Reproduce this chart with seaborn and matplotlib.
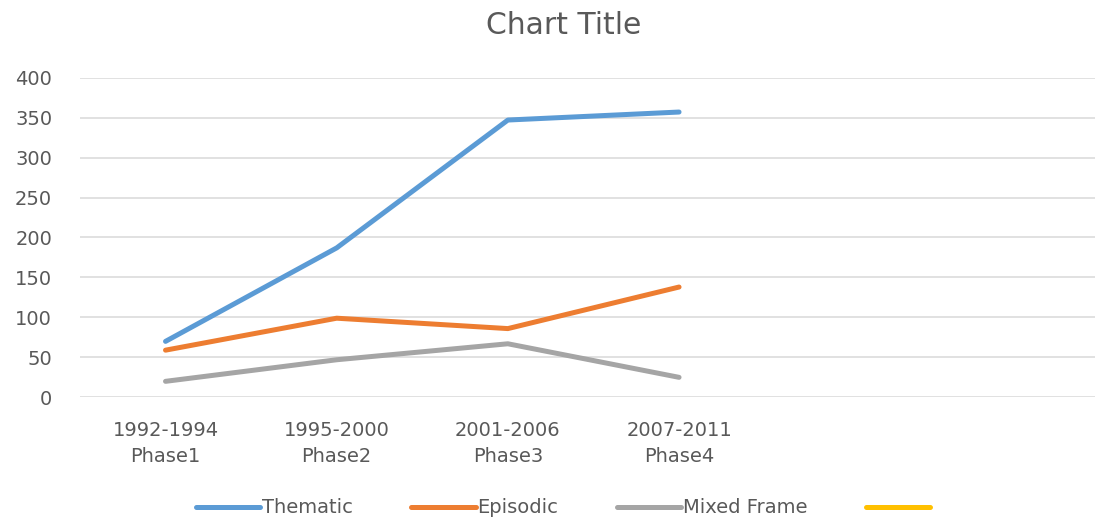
import matplotlib
matplotlib.use("Agg")
import matplotlib.pyplot as plt
from matplotlib.lines import Line2D
import seaborn as sns
import pandas as pd

# Data
periods = ["1992-1994\nPhase1", "1995-2000\nPhase2", "2001-2006\nPhase3", "2007-2011\nPhase4"]
thematic = [70, 187, 347, 357]
episodic = [59, 99, 86, 138]
mixed_frame = [20, 47, 67, 25]
series_names = ["Thematic", "Episodic", "Mixed Frame", ""]
series_colors = ["#5B9BD5", "#ED7D31", "#A5A5A5", "#FFC000"]
y_ticks = [0, 50, 100, 150, 200, 250, 300, 350, 400]

df = pd.DataFrame({
    "period": periods * 3,
    "value": thematic + episodic + mixed_frame,
    "series": [series_names[0]] * 4 + [series_names[1]] * 4 + [series_names[2]] * 4,
})

sns.set_theme(style="white")
plt.rcParams["font.family"] = ["DejaVu Sans"]
text_color = "#595959"

fig = plt.figure(figsize=(10.95, 5.21), dpi=100)
ax = fig.add_axes([0.073, 0.2374, 0.927, 0.6135])

sns.lineplot(
    data=df, x="period", y="value", hue="series",
    palette=dict(zip(series_names[:3], series_colors[:3])),
    linewidth=3.6, ax=ax, legend=False, sort=False,
)

ax.set_ylim(0, 400)
ax.set_xlim(-0.5, 5.43)
ax.set_yticks(y_ticks)
ax.set_xticks(range(len(periods)))
ax.set_xticklabels(periods, linespacing=1.45)
ax.grid(axis="y", color="#D9D9D9", linewidth=1.1)
ax.set_axisbelow(True)
for s in ax.spines.values():
    s.set_visible(False)
ax.tick_params(axis="both", length=0, labelsize=14, colors=text_color)
ax.tick_params(axis="y", pad=20)
ax.tick_params(axis="x", pad=17)
ax.set_xlabel("")
ax.set_ylabel("")

fig.text(0.515, 0.951, "Chart Title", ha="center", va="center",
         fontsize=21.5, color=text_color)

handles = [Line2D([], [], color=c, linewidth=3.6) for c in series_colors]
fig.legend(handles, series_names, loc="center", bbox_to_anchor=(0.515, 0.025),
           ncol=4, frameon=False, fontsize=14, labelcolor=text_color,
           handlelength=3.3, handletextpad=0.1, columnspacing=3.0)

fig.savefig("out.png", dpi=100, facecolor="white")
